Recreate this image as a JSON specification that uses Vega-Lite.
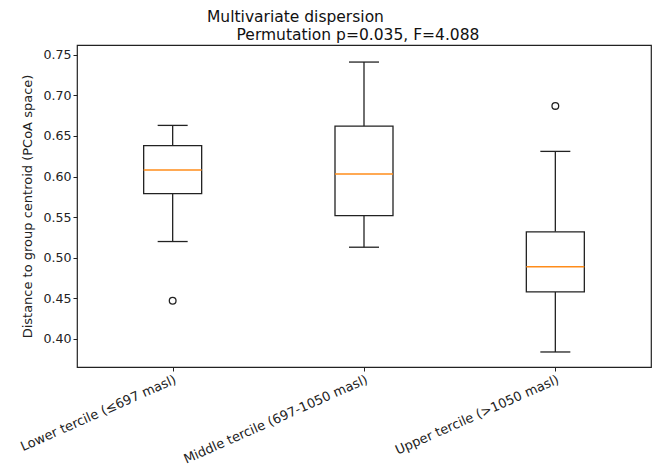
{
  "$schema": "https://vega.github.io/schema/vega-lite/v6.json",
  "autosize": {"type": "none"},
  "padding": {"left": 77, "top": 45, "right": 2, "bottom": 102},
  "width": 574,
  "height": 322,
  "background": "white",
  "config": {
    "font": "DejaVu Sans",
    "view": {"stroke": "#222", "strokeWidth": 1.2},
    "axis": {"grid": false, "domain": false, "tickColor": "#222", "tickSize": 4, "labelColor": "#222", "titleColor": "#222", "titleFontWeight": "normal", "labelFont": "DejaVu Sans", "titleFont": "DejaVu Sans"}
  },
  "title": {
    "text": "Multivariate dispersion",
    "subtitle": "\u200b\u00a0\u00a0\u00a0\u00a0\u00a0\u00a0Permutation p=0.035, F=4.088",
    "anchor": "start",
    "frame": "group",
    "dx": 130,
    "fontSize": 15.5,
    "fontWeight": "normal",
    "subtitleFontSize": 15.5,
    "subtitleColor": "#111",
    "color": "#111",
    "font": "DejaVu Sans",
    "subtitleFont": "DejaVu Sans",
    "subtitlePadding": 2,
    "offset": 2
  },
  "datasets": {
    "boxes": [
      {"group": "Lower tercile (≤697 masl)", "low": 0.520, "q1": 0.579, "median": 0.608, "q3": 0.638, "high": 0.663},
      {"group": "Middle tercile (697-1050 masl)", "low": 0.513, "q1": 0.552, "median": 0.603, "q3": 0.662, "high": 0.741},
      {"group": "Upper tercile (>1050 masl)", "low": 0.384, "q1": 0.458, "median": 0.489, "q3": 0.532, "high": 0.631}
    ],
    "outliers": [
      {"group": "Lower tercile (≤697 masl)", "value": 0.447},
      {"group": "Upper tercile (>1050 masl)", "value": 0.687}
    ]
  },
  "encoding": {
    "x": {
      "field": "group", "type": "nominal",
      "sort": ["Lower tercile (≤697 masl)", "Middle tercile (697-1050 masl)", "Upper tercile (>1050 masl)"],
      "scale": {"type": "point", "padding": 0.5},
      "axis": {"title": null, "labelAngle": -24, "labelAlign": "right", "labelBaseline": "top", "labelFontSize": 13, "labelPadding": 2, "labelLimit": 400}
    }
  },
  "layer": [
    {
      "data": {"name": "boxes"},
      "mark": {"type": "rule", "stroke": "#222", "strokeWidth": 1.3},
      "encoding": {
        "y": {"field": "low", "type": "quantitative", "scale": {"domain": [0.3655, 0.762], "nice": false, "zero": false},
          "axis": {"title": "Distance to group centroid (PCoA space)", "titleFontSize": 13, "labelFontSize": 12.6, "values": [0.40, 0.45, 0.50, 0.55, 0.60, 0.65, 0.70, 0.75], "format": ".2f", "titlePadding": 8}},
        "y2": {"field": "q1"}
      }
    },
    {
      "data": {"name": "boxes"},
      "mark": {"type": "rule", "stroke": "#222", "strokeWidth": 1.3},
      "encoding": {
        "y": {"field": "q3", "type": "quantitative"},
        "y2": {"field": "high"}
      }
    },
    {
      "data": {"name": "boxes"},
      "mark": {"type": "bar", "width": 58, "fill": "white", "stroke": "#222", "strokeWidth": 1.3},
      "encoding": {
        "y": {"field": "q1", "type": "quantitative"},
        "y2": {"field": "q3"}
      }
    },
    {
      "data": {"name": "boxes"},
      "mark": {"type": "tick", "size": 58, "thickness": 1.5, "color": "#ff8c1a", "opacity": 1},
      "encoding": {
        "y": {"field": "median", "type": "quantitative"}
      }
    },
    {
      "data": {"name": "boxes"},
      "mark": {"type": "tick", "size": 30, "thickness": 1.3, "color": "#222", "opacity": 1},
      "encoding": {
        "y": {"field": "low", "type": "quantitative"}
      }
    },
    {
      "data": {"name": "boxes"},
      "mark": {"type": "tick", "size": 30, "thickness": 1.3, "color": "#222", "opacity": 1},
      "encoding": {
        "y": {"field": "high", "type": "quantitative"}
      }
    },
    {
      "data": {"name": "outliers"},
      "mark": {"type": "point", "shape": "circle", "filled": false, "size": 45, "stroke": "#222", "strokeWidth": 1.3, "opacity": 1},
      "encoding": {
        "y": {"field": "value", "type": "quantitative"}
      }
    }
  ]
}
